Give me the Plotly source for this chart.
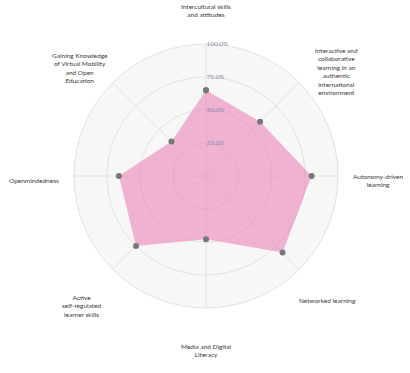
import math
import plotly.graph_objects as go

categories = [
    "Intercultural skills<br>and attitudes",
    "Interactive and<br>collaborative<br>learning in an<br>authentic<br>international<br>environment",
    "Autonomy-driven<br>learning",
    "Networked learning",
    "Media and Digital<br>Literacy",
    "Active<br>self-regulated<br>learner skills",
    "Openmindedness",
    "Gaining Knowledge<br>of Virtual Mobility<br>and Open<br>Education",
]
values = [65, 58, 80, 82, 48, 75, 66, 37]
tick_vals = [25, 50, 75, 100]
tick_text = ["25.0%", "50.0%", "75.0%", "100.0%"]

W, H = 410, 373
cx, cy, R = 206, 176, 132
label_rx, label_ry, label_dy = 172, 170, 4

fig = go.Figure()
fig.add_trace(go.Scatterpolar(
    r=values + values[:1],
    theta=categories + categories[:1],
    mode="lines+markers",
    fill="toself",
    fillcolor="rgba(234,132,184,0.6)",
    line=dict(color="rgba(232,128,180,0.0)", width=0),
    marker=dict(color="#777777", size=6),
    hoverinfo="skip",
    showlegend=False,
))

# category labels, placed on a ring outside the chart, centred
n = len(categories)
for i, lab in enumerate(categories):
    a = 2 * math.pi * i / n
    nl = lab.count("<br>") + 1
    grow = max(0, nl - 2) * 3
    px = cx + (label_rx + grow) * math.sin(a)
    py = cy + label_dy - label_ry * math.cos(a) + (2 * nl if nl >= 3 else 0)
    fig.add_annotation(
        x=px / W, y=1 - py / H, xref="paper", yref="paper",
        text=lab, showarrow=False, align="center",
        xanchor="center", yanchor="middle",
        font=dict(size=6.5, color="#3a3a3a", family="Lato"),
    )

fig.update_layout(
    width=W, height=H,
    margin=dict(l=0, r=0, t=0, b=0),
    paper_bgcolor="white",
    font=dict(family="Lato", size=7, color="#444"),
    polar=dict(
        domain=dict(x=[(cx - R) / W, (cx + R) / W], y=[1 - (cy + R) / H, 1 - (cy - R) / H]),
        bgcolor="#f7f7f7",
        angularaxis=dict(
            direction="clockwise", rotation=90,
            gridcolor="#e2e2e2", linecolor="#e2e2e2", linewidth=1,
            showticklabels=False, ticks="",
        ),
        radialaxis=dict(
            range=[0, 100], angle=90, tickangle=90, side="clockwise",
            tickvals=tick_vals, ticktext=tick_text,
            gridcolor="#e2e2e2", showline=False, ticks="",
            tickfont=dict(size=6.5, color="#8a8aa8", family="Lato"),
        ),
    ),
)

fig.write_html("out.html", config={"displayModeBar": False},
               post_script="document.body.style.margin='0';")
